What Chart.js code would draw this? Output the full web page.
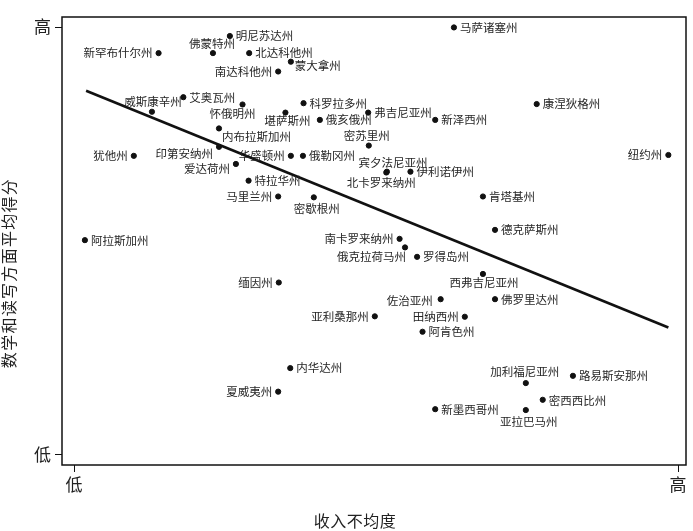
<!DOCTYPE html>
<html>
<head>
<meta charset="utf-8">
<script src="https://cdn.jsdelivr.net/npm/chart.js@4"></script>
<style>
html,body{margin:0;padding:0;background:#fff;}
#wrap{width:693px;height:531px;}
</style>
</head>
<body>
<div id="wrap"><canvas id="c" width="693" height="531"></canvas></div>
<script>
const states = ['马萨诸塞州','明尼苏达州','佛蒙特州','新罕布什尔州','北达科他州','蒙大拿州','南达科他州','艾奥瓦州','威斯康辛州','怀俄明州',
'科罗拉多州','弗吉尼亚州','康涅狄格州','堪萨斯州','俄亥俄州','新泽西州','内布拉斯加州','密苏里州','犹他州','印第安纳州',
'华盛顿州','俄勒冈州','纽约州','宾夕法尼亚州','爱达荷州','伊利诺伊州','北卡罗来纳州','特拉华州','马里兰州','密歇根州',
'肯塔基州','阿拉斯加州','德克萨斯州','南卡罗来纳州','俄克拉荷马州','罗得岛州','西弗吉尼亚州','缅因州','佐治亚州','佛罗里达州',
'亚利桑那州','田纳西州','阿肯色州','内华达州','加利福尼亚州','路易斯安那州','夏威夷州','密西西比州','新墨西哥州','亚拉巴马州'];
const inequality = [62.9,25.8,23.0,14.0,29.0,35.9,33.8,18.1,12.9,27.9,
38.0,48.7,76.6,35.0,40.7,59.8,24.0,48.8,9.9,24.0,
35.9,37.9,98.4,51.8,26.8,55.7,51.7,28.9,33.8,39.7,
67.7,1.8,69.7,53.9,54.8,56.8,67.7,33.9,60.7,69.7,
49.8,64.7,57.7,35.8,74.8,82.6,33.8,77.6,59.8,74.8];
const scores = [99.9,97.9,93.9,93.9,93.9,91.9,89.6,83.6,80.2,81.9,
82.2,80.0,82.0,80.0,78.3,78.3,76.3,72.3,69.9,72.0,
69.9,69.9,70.1,66.2,68.0,66.2,66.0,64.1,60.4,60.2,
60.4,50.2,52.6,50.5,48.5,46.3,42.3,40.3,36.4,36.4,
32.4,32.3,28.8,20.3,16.8,18.5,14.8,12.9,10.7,10.5];
const trendX = [2.0, 98.4];
const trendY = [85.1, 29.8];
const xTickLabels = ['低','高'];
const yTickLabels = ['低','高'];
const tickValues = [0,100];
const xTitle = '收入不均度';
const yTitle = '数学和读写方面平均得分';

// label placement style: [textAlign, dx, dy] relative to the dot (pixels)
const R = ['left',6,0], L = ['right',-6,0];
const labelPlace = [R,R,['center',-1,-9],L,R,['left',4,4],L,R,['center',1,-10],['center',-10,9],
R,R,R,['center',2,8],R,R,['left',3,8],['center',-2,-10],L,['right',-6,7],
L,R,L,['center',6,-9],['right',-6,5],R,['center',-5,10],R,L,['center',3,11],
R,R,R,L,['right',1,9],R,['center',1,9],L,['right',-8,1],R,
L,L,R,R,['center',-1,-11],R,L,['left',6,1],R,['center',3,12]];

const FONT = '"Noto Sans CJK SC", "Noto Sans", sans-serif';

const labelPlugin = {
  id:'stateLabels',
  afterDatasetsDraw(chart){
    const ctx = chart.ctx;
    const meta = chart.getDatasetMeta(1);
    ctx.save();
    ctx.font = '11.5px ' + FONT;
    ctx.fillStyle = '#262626';
    ctx.textBaseline = 'middle';
    meta.data.forEach((el,i)=>{
      const p = labelPlace[i];
      ctx.textAlign = p[0];
      ctx.fillText(states[i], el.x + p[1], el.y + p[2]);
    });
    ctx.restore();
  }
};
const framePlugin = {
  id:'frame',
  afterDraw(chart){
    const a = chart.chartArea, ctx = chart.ctx;
    ctx.save();
    ctx.strokeStyle = '#111';
    ctx.lineWidth = 1.5;
    ctx.strokeRect(a.left, a.top, a.right - a.left, a.bottom - a.top);
    // axis titles
    ctx.fillStyle = '#222';
    ctx.font = '16px ' + FONT;
    ctx.textAlign = 'center';
    ctx.textBaseline = 'middle';
    try { ctx.letterSpacing = '0.5px'; } catch(e) {}
    ctx.fillText(xTitle, 355, 521);
    ctx.save();
    try { ctx.letterSpacing = '1.3px'; } catch(e) {}
    ctx.translate(9, 273);
    ctx.rotate(-Math.PI/2);
    ctx.fillText(yTitle, 0, 0);
    ctx.restore();
    ctx.restore();
  }
};

new Chart(document.getElementById('c'), {
  type:'scatter',
  data:{
    datasets:[
      {
        type:'line',
        data: trendX.map((x,i)=>({x:x, y:trendY[i]})),
        borderColor:'#111', borderWidth:2.6, pointRadius:0, fill:false
      },
      {
        data: inequality.map((x,i)=>({x:x, y:scores[i]})),
        backgroundColor:'#111', borderColor:'#111', pointRadius:2.6, pointHoverRadius:2.6
      }
    ]
  },
  options:{
    responsive:false,
    animation:false,
    events:[],
    layout:{padding:{left:0, right:7, top:17, bottom:0}},
    plugins:{legend:{display:false}, tooltip:{enabled:false}},
    scales:{
      x:{
        type:'linear', min:-1.99, max:101.32,
        afterBuildTicks(s){ s.ticks = tickValues.map(v=>({value:v})); },
        afterFit(s){ s.height = 66; },
        border:{display:false},
        grid:{drawOnChartArea:false, drawTicks:true, tickLength:7, color:'#111', lineWidth:1},
        ticks:{padding:2, color:'#222', font:{size:17, family:FONT}, maxRotation:0,
          callback:(v)=>{const i = tickValues.indexOf(v); return i>=0 ? xTickLabels[i] : '';}},
        title:{display:false}
      },
      y:{
        type:'linear', min:-2.34, max:102.34,
        afterBuildTicks(s){ s.ticks = tickValues.map(v=>({value:v})); },
        afterFit(s){ s.width = 62; },
        border:{display:false},
        grid:{drawOnChartArea:false, drawTicks:true, tickLength:7, color:'#111', lineWidth:1},
        ticks:{padding:4, color:'#222', font:{size:17, family:FONT},
          callback:(v)=>{const i = tickValues.indexOf(v); return i>=0 ? yTickLabels[i] : '';}},
        title:{display:false}
      }
    }
  },
  plugins:[labelPlugin, framePlugin]
});
</script>
</body>
</html>
